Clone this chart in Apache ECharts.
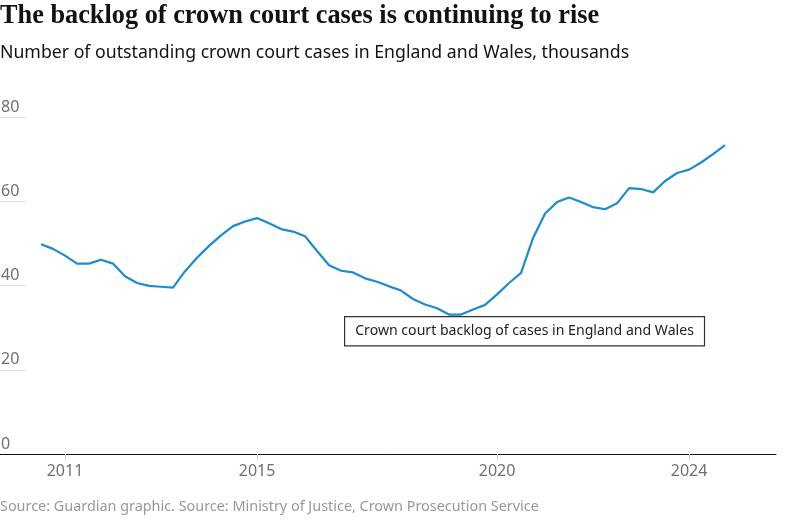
<!DOCTYPE html>
<html>
<head>
<meta charset="utf-8">
<title>Crown court backlog</title>
<script src="https://cdn.jsdelivr.net/npm/echarts@6/dist/echarts.min.js"></script>
<style>
  html, body { margin: 0; padding: 0; background: #fff; }
  #chart { width: 805px; height: 528px; }
</style>
</head>
<body>
<div id="chart"></div>
<script>
// quarters, from 2010 Q3 to 2024 Q4
const quarters = [
  '2010 Q3', '2010 Q4',
  '2011 Q1', '2011 Q2', '2011 Q3', '2011 Q4',
  '2012 Q1', '2012 Q2', '2012 Q3', '2012 Q4',
  '2013 Q1', '2013 Q2', '2013 Q3', '2013 Q4',
  '2014 Q1', '2014 Q2', '2014 Q3', '2014 Q4',
  '2015 Q1', '2015 Q2', '2015 Q3', '2015 Q4',
  '2016 Q1', '2016 Q2', '2016 Q3', '2016 Q4',
  '2017 Q1', '2017 Q2', '2017 Q3', '2017 Q4',
  '2018 Q1', '2018 Q2', '2018 Q3', '2018 Q4',
  '2019 Q1', '2019 Q2', '2019 Q3', '2019 Q4',
  '2020 Q1', '2020 Q2', '2020 Q3', '2020 Q4',
  '2021 Q1', '2021 Q2', '2021 Q3', '2021 Q4',
  '2022 Q1', '2022 Q2', '2022 Q3', '2022 Q4',
  '2023 Q1', '2023 Q2', '2023 Q3', '2023 Q4',
  '2024 Q1', '2024 Q2', '2024 Q3', '2024 Q4'
]

// outstanding cases, thousands
const backlog = [
  49.8, 48.7,
  47.1, 45.2, 45.2, 46.1,
  45.2, 42.2, 40.6, 39.9,
  39.7, 39.5, 43.4, 46.6,
  49.4, 51.9, 54.1, 55.2,
  56.0, 54.8, 53.4, 52.8,
  51.7, 48.2, 44.8, 43.5,
  43.1, 41.7, 40.9, 39.8,
  38.8, 36.8, 35.5, 34.6,
  33.1, 33.1, 34.3, 35.4,
  37.9, 40.6, 43.0, 51.3,
  57.1, 59.8, 60.9, 59.8,
  58.6, 58.1, 59.5, 63.1,
  62.9, 62.1, 64.8, 66.7,
  67.5, 69.2, 71.2, 73.3
]

const yearTicks = [2011, 2015, 2020, 2024]
const valueTicks = [0, 20, 40, 60, 80]

const seriesName = 'Crown court backlog of cases in England and Wales'

// '2015 Q2' -> 2015.25
function quarterToYear(q) {
  const parts = q.split(' Q')
  return Number(parts[0]) + (Number(parts[1]) - 1) / 4
}

const chart = echarts.init(document.getElementById('chart'))

chart.setOption({
  animation: false,
  title: [{
    text: 'The backlog of crown court cases is continuing to rise',
    left: 0,
    top: 3,
    padding: 0,
    textStyle: {
      fontFamily: 'Liberation Serif',
      fontSize: 26.3,
      fontWeight: 'bold',
      color: '#121212'
    }
  }, {
    text: 'Number of outstanding crown court cases in England and Wales, thousands',
    left: 0,
    top: 44,
    padding: 0,
    textStyle: {
      fontFamily: 'Noto Sans',
      fontSize: 17.7,
      fontWeight: 'normal',
      color: '#121212'
    }
  }, {
    text: 'Source: Guardian graphic. Source: Ministry of Justice, Crown Prosecution Service',
    left: 0,
    top: 500,
    padding: 0,
    textStyle: {
      fontFamily: 'Noto Sans',
      fontSize: 14.4,
      fontWeight: 'normal',
      color: '#999999'
    }
  }],
  grid: {
    left: 0,
    right: 29,
    top: 117,
    bottom: 74,
    outerBoundsMode: 'none'
  },
  xAxis: {
    type: 'value',
    min: 2009.646,
    max: 2025.81,
    splitLine: { show: false },
    axisLine: { show: true, lineStyle: { color: '#121212', width: 1 } },
    axisTick: {
      show: true,
      length: 6,
      customValues: yearTicks,
      lineStyle: { color: '#cccccc' }
    },
    axisLabel: {
      customValues: yearTicks,
      margin: 9,
      fontFamily: 'Noto Sans',
      fontSize: 16,
      color: '#707070',
      formatter: v => String(v)
    }
  },
  yAxis: {
    type: 'value',
    min: 0,
    max: 80,
    interval: 20,
    splitLine: { show: false },
    axisLine: { show: false },
    axisTick: {
      show: true,
      inside: true,
      length: 26,
      customValues: valueTicks.slice(1),
      lineStyle: { color: '#dcdcdc' }
    },
    axisLabel: {
      inside: true,
      margin: 1,
      verticalAlign: 'bottom',
      padding: [0, 0, 2, 0],
      fontFamily: 'Noto Sans',
      fontSize: 16,
      color: '#707070'
    }
  },
  series: [{
    name: seriesName,
    type: 'line',
    data: quarters.map((q, i) => [quarterToYear(q), backlog[i]]),
    showSymbol: false,
    lineStyle: { color: '#1a8cd2', width: 2.2 },
    itemStyle: { color: '#1a8cd2' }
  }],
  graphic: [{
    type: 'text',
    left: 344,
    top: 316,
    style: {
      text: seriesName,
      fontFamily: 'Noto Sans',
      fontSize: 14.1,
      fill: '#222222',
      backgroundColor: '#ffffff',
      borderColor: '#333333',
      borderWidth: 1.2,
      padding: [7, 10, 7, 10],
      boxShadowColor: '#555555',
      boxShadowOffsetX: 1,
      boxShadowOffsetY: 1
    }
  }]
})
</script>
</body>
</html>
